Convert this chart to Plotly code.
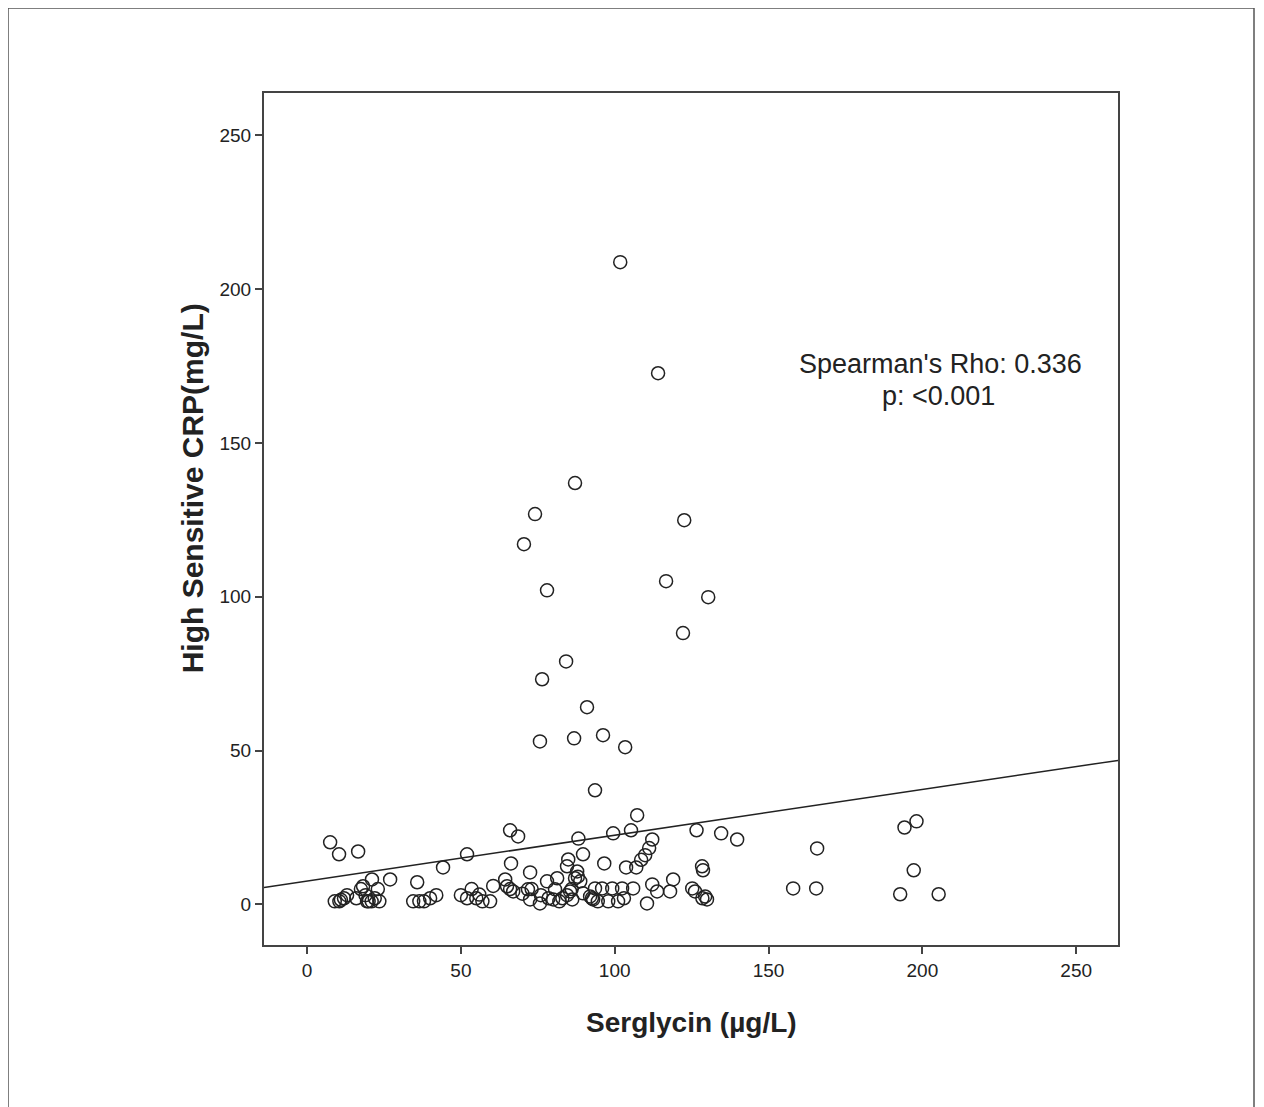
import plotly.graph_objects as go

# Serglycin (µg/L) vs hs-CRP (mg/L)
serglycin = [
    101.8, 114.1, 87.1, 74.1, 70.5, 122.6, 116.7, 78.0, 130.4, 122.2,
    84.2, 76.4, 91.0, 75.7, 86.8, 96.2, 103.4, 93.6, 107.3,
    66.0, 68.6, 88.2, 99.5, 105.3, 112.2, 111.2, 109.9, 108.6, 107.0,
    103.7, 96.6, 89.7, 84.9, 84.5, 87.8, 66.3, 72.5, 126.6, 134.6,
    139.8, 128.4, 128.7, 165.8, 194.2, 198.1, 197.2, 7.5, 10.4, 16.6,
    44.2, 52.0, 27.0, 21.1, 35.8,
    158.0, 165.5, 192.8, 205.3,
    9.0, 10.5, 12.0, 13.0, 11.0,
    16.0, 17.5, 18.2, 19.0, 20.0, 21.0, 22.0, 23.0, 23.5, 19.5,
    34.5, 36.5, 38.0, 40.0, 42.0,
    50.0, 52.0, 53.5, 55.0, 57.0, 59.5, 60.5,
    64.4, 65.0, 67.0, 71.8, 72.5, 75.7, 78.0, 80.0, 80.6, 81.3,
    82.0, 85.5, 86.2, 87.1, 88.8, 89.7, 92.6, 93.6, 92.0, 93.0,
    94.5, 95.9, 97.9, 99.2, 101.1, 102.4, 103.0, 106.0, 110.5, 112.2,
    113.8, 119.0, 118.0, 125.2, 126.1, 129.4, 130.0, 128.5, 84.5, 86.0,
    83.0, 76.0, 78.5, 88.0, 73.0, 70.0, 66.0, 56.0,
]
crp = [
    208.8, 172.7, 137.0, 126.9, 117.1, 124.9, 105.1, 102.1, 99.9, 88.2,
    79.0, 73.2, 64.1, 53.0, 54.0, 55.0, 51.1, 37.1, 29.0,
    24.1, 22.1, 21.4, 23.1, 24.1, 21.1, 18.3, 16.0, 14.5, 12.0,
    12.0, 13.3, 16.3, 14.6, 12.4, 10.7, 13.3, 10.4, 24.1, 23.1,
    21.1, 12.4, 11.1, 18.2, 25.0, 27.0, 11.1, 20.2, 16.3, 17.2,
    12.0, 16.3, 8.1, 8.1, 7.2,
    5.2, 5.2, 3.3, 3.3,
    1.0, 1.0, 2.0, 3.0, 1.5,
    2.0, 5.0, 5.9, 3.0, 1.0, 1.0, 2.0, 5.0, 1.0, 1.0,
    1.0, 1.0, 1.0, 2.0, 3.0,
    3.0, 2.0, 5.0, 2.0, 1.0, 1.0, 6.0,
    8.1, 5.9, 4.2, 4.9, 1.6, 0.3, 7.5, 1.6, 4.9, 8.5,
    1.0, 4.2, 1.6, 8.5, 7.5, 3.6, 2.0, 5.2, 2.6, 1.6,
    1.0, 5.2, 1.0, 5.2, 1.0, 5.2, 2.0, 5.2, 0.3, 6.5,
    4.2, 8.1, 4.2, 5.2, 4.2, 2.6, 1.6, 2.0, 3.0, 5.0,
    2.0, 3.0, 2.0, 9.0, 5.0, 3.5, 5.0, 3.2,
]

# Fit line coefficients
fit_intercept = 7.6
fit_slope = 0.1488

x_range = [-14.0, 263.6]
y_range = [-13.2, 263.8]
tick_vals = [0, 50, 100, 150, 200, 250]
tick_text = ["0", "50", "100", "150", "200", "250"]
stat_line1 = "Spearman's Rho: 0.336"
stat_line2 = "p: <0.001"
x_title = "Serglycin (µg/L)"
y_title = "High Sensitive CRP(mg/L)"

FONT = "Liberation Sans, Arial, sans-serif"
INK = "#222222"

fig = go.Figure()

fit_x = x_range
fit_y = [fit_intercept + fit_slope * v for v in fit_x]
fig.add_trace(go.Scatter(
    x=fit_x, y=fit_y, mode="lines",
    line=dict(color=INK, width=1.5), hoverinfo="skip", showlegend=False,
))

fig.add_trace(go.Scatter(
    x=serglycin, y=crp, mode="markers",
    marker=dict(symbol="circle-open", size=13,
                line=dict(color=INK, width=1.5), color=INK),
    showlegend=False,
))

axis_common = dict(
    showgrid=False, zeroline=False,
    showline=True, linecolor="#444444", linewidth=2, mirror=True,
    ticks="outside", ticklen=7, tickwidth=2, tickcolor="#444444",
    tickvals=tick_vals, ticktext=tick_text,
    tickfont=dict(family=FONT, size=19, color=INK),
)

fig.update_xaxes(range=x_range, **axis_common)
fig.update_yaxes(range=y_range, **axis_common)

# page body has an 8px margin; figure is sized/margined to compensate
fig.update_layout(
    width=1256, height=1099,
    margin=dict(l=256, r=146, t=85, b=162),
    paper_bgcolor="white", plot_bgcolor="white",
    font=dict(family=FONT, color=INK),
    annotations=[
        dict(text=stat_line1, x=205.8, y=175.6, xref="x", yref="y",
             showarrow=False, xanchor="center", yanchor="middle",
             font=dict(family=FONT, size=27, color=INK)),
        dict(text=stat_line2, x=205.1, y=165.4, xref="x", yref="y",
             showarrow=False, xanchor="center", yanchor="middle",
             font=dict(family=FONT, size=27, color=INK)),
        dict(text="<b>" + x_title + "</b>", x=0.5, y=-0.0904,
             xref="paper", yref="paper", showarrow=False,
             xanchor="center", yanchor="middle",
             font=dict(family=FONT, size=28, color=INK)),
        dict(text="<b>" + y_title + "</b>", x=-0.0843, y=0.536,
             xref="paper", yref="paper", showarrow=False, textangle=-90,
             xanchor="center", yanchor="middle",
             font=dict(family=FONT, size=30, color=INK)),
    ],
    shapes=[
        dict(type="rect", xref="paper", yref="paper",
             x0=(8 - 264) / 854, x1=(1254 - 264) / 854,
             y0=(945 - 1115) / 852, y1=(945 - 8) / 852,
             line=dict(color="#555555", width=1.5), layer="below"),
    ],
)

fig.write_html("out.html")
